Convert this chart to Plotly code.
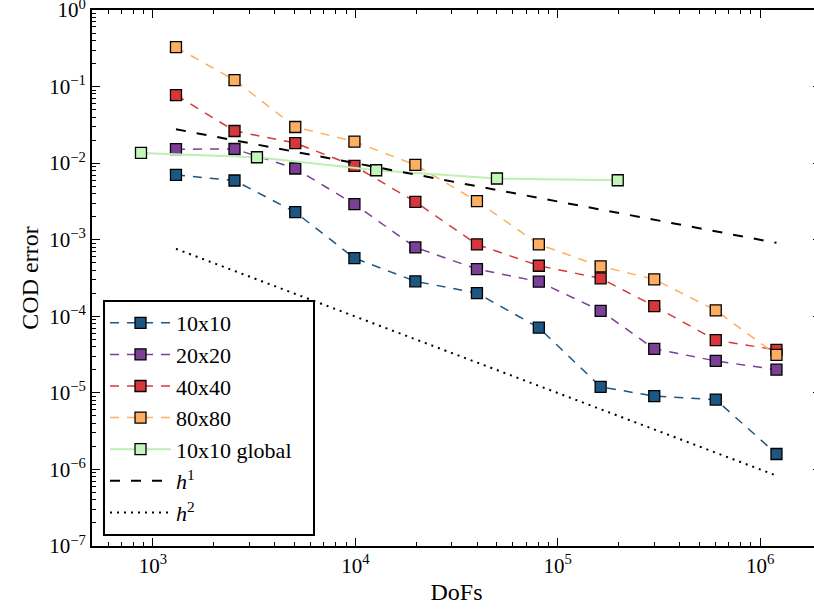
import plotly.graph_objects as go
import numpy as np

# ---- data ----
dofs = [1300, 2530, 5050, 9900, 19800, 39900, 80700, 163000, 300000, 604000, 1205000]
err_10 = [7.02e-3, 5.93e-3, 2.29e-3, 5.75e-4, 2.86e-4, 2.01e-4, 7.10e-5, 1.20e-5, 9.05e-6, 8.18e-6, 1.59e-6]
err_20 = [1.52e-2, 1.53e-2, 8.51e-3, 2.91e-3, 7.94e-4, 4.14e-4, 2.83e-4, 1.18e-4, 3.75e-5, 2.61e-5, 2.01e-5]
err_40 = [7.75e-2, 2.63e-2, 1.83e-2, 9.19e-3, 3.12e-3, 8.68e-4, 4.57e-4, 3.13e-4, 1.36e-4, 4.87e-5, 3.64e-5]
err_80 = [3.27e-1, 1.215e-1, 2.965e-2, 1.913e-2, 9.48e-3, 3.19e-3, 8.68e-4, 4.49e-4, 3.04e-4, 1.197e-4, 3.13e-5]
dofs_global = [873, 3266, 12680, 50100, 198000]
err_global = [1.358e-2, 1.194e-2, 8.07e-3, 6.30e-3, 5.98e-3]
ref_x = [1300, 1205000]
h1_y = [2.77e-2, 9.1e-4]
h2_y = [7.6e-4, 8.3e-7]

series_names = ["10x10", "20x20", "40x40", "80x80"]
series_vals = [err_10, err_20, err_40, err_80]
series_colors = ["#1c5682", "#7b3f96", "#d7373b", "#fdae61"]

FONT = "Liberation Serif"

fig = go.Figure()
for name, vals, col in zip(series_names, series_vals, series_colors):
    fig.add_trace(go.Scatter(
        x=dofs, y=vals, name=name, mode="lines+markers",
        line=dict(color=col, width=1.5, dash="9px,8px"),
        marker=dict(symbol="square", size=11, color=col, line=dict(color="black", width=1.3)),
    ))
fig.add_trace(go.Scatter(
    x=dofs_global, y=err_global, name="10x10 global\u00a0\u00a0\u00a0", mode="lines+markers",
    line=dict(color="#bdf0b3", width=2),
    marker=dict(symbol="square", size=11, color="#c4f5bb", line=dict(color="black", width=1.3)),
))
fig.add_trace(go.Scatter(
    x=ref_x, y=h1_y, name="<i>h</i><sup>1</sup>", mode="lines",
    line=dict(color="black", width=2, dash="10px,11px"),
))
fig.add_trace(go.Scatter(
    x=ref_x, y=h2_y, name="<i>h</i><sup>2</sup>", mode="lines",
    line=dict(color="black", width=2, dash="2px,5px"),
))

xmajor = [1e3, 1e4, 1e5, 1e6]
xmajor_text = ["10<sup>3</sup>", "10<sup>4</sup>", "10<sup>5</sup>", "10<sup>6</sup>"]
ymajor = [10.0 ** k for k in range(-7, 1)]
ymajor_text = ["10<sup>−%d</sup>" % (-k) if k < 0 else "10<sup>0</sup>" for k in range(-7, 1)]
xminor = [m * 10.0 ** e for e in range(2, 7) for m in range(2, 10)]
yminor = [m * 10.0 ** e for e in range(-7, 0) for m in range(2, 10)]

axis_common = dict(
    type="log", showgrid=False, zeroline=False, showline=True, linecolor="black", linewidth=2,
    ticks="inside", ticklen=8, tickwidth=1, tickcolor="black", automargin=False,
    mirror="allticks", ticklabeloverflow="allow",
    tickfont=dict(family=FONT, size=21, color="black"),
)
fig.update_xaxes(
    **axis_common, range=[np.log10(500), np.log10(2e6)],
    tickvals=xmajor, ticktext=xmajor_text,
    minor=dict(tickvals=xminor, ticklen=4, tickwidth=1, tickcolor="black", ticks="inside", showgrid=False),
    title=dict(text="DoFs", font=dict(family=FONT, size=24, color="black"), standoff=6),
)
fig.update_yaxes(
    **axis_common, range=[-7, 0],
    tickvals=ymajor, ticktext=ymajor_text,
    minor=dict(tickvals=yminor, ticklen=4, tickwidth=1, tickcolor="black", ticks="inside", showgrid=False),
    title=dict(text="COD error", font=dict(family=FONT, size=24, color="black"), standoff=4),
)
# figure is a little wider than the window so that the right spine sits just off-screen, as in the reference
fig.update_layout(
    width=822, height=609,
    margin=dict(l=92, r=1, t=10, b=63),
    plot_bgcolor="white", paper_bgcolor="white",
    font=dict(family=FONT, size=21, color="black"),
    legend=dict(
        x=0.0151, y=0.0187, xanchor="left", yanchor="bottom",
        bordercolor="black", borderwidth=2, bgcolor="white",
        font=dict(family=FONT, size=22, color="black"),
        itemwidth=61, tracegroupgap=0,
    ),
)
fig.write_html(
    "out.html",
    config={"displayModeBar": False},
    post_script="document.body.style.margin='0';document.body.style.overflow='hidden';"
                "document.documentElement.style.overflow='hidden';",
)
